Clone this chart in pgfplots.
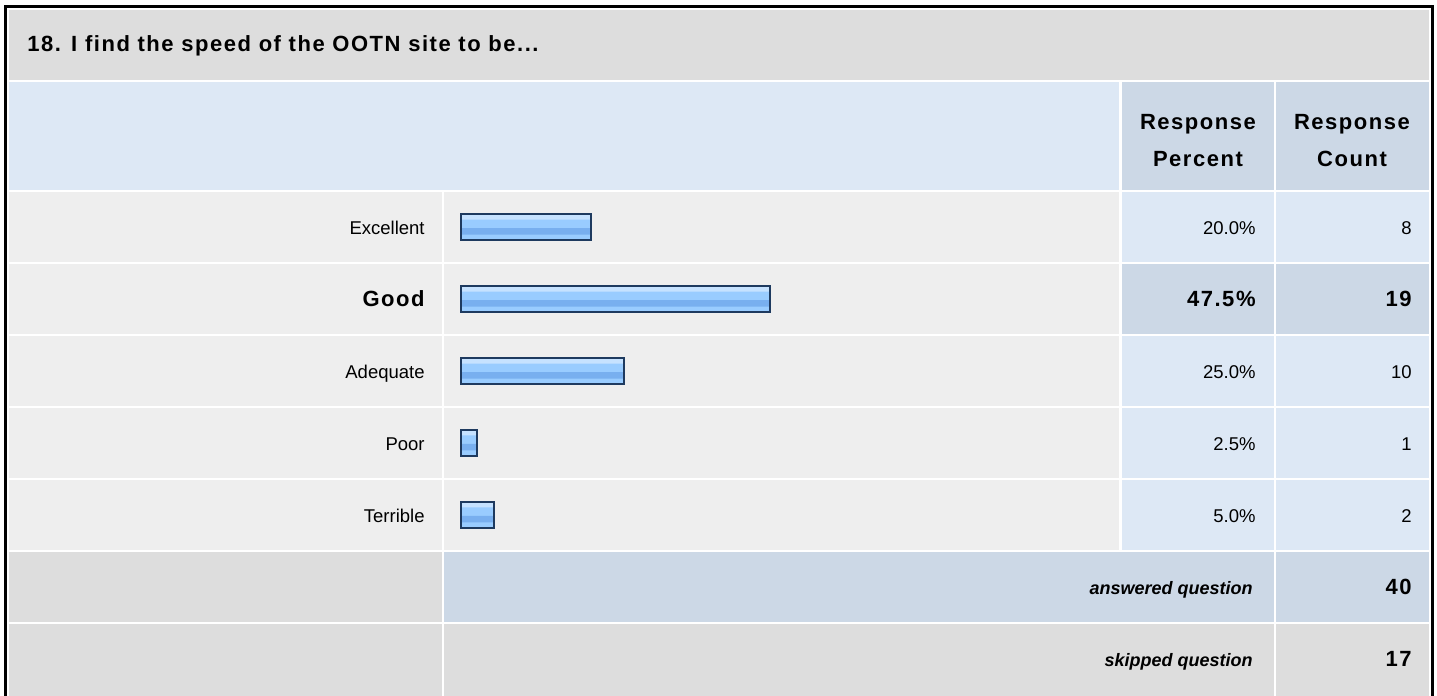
\documentclass[border=0pt]{standalone}
\usepackage{pgfplots}
\pgfplotsset{compat=1.18}
\usepackage{pgfplotstable}
\usepackage{fontspec}
\setmainfont{Liberation Sans}
\newfontfamily\wb{Liberation Sans}[LetterSpace=7]
\newcommand\bigb{\wb\bfseries\fontsize{11}{13}\selectfont}
\newcommand\bi{\bfseries\itshape\fontsize{9}{11}\selectfont}
\definecolor{titlegray}{HTML}{DDDDDD}
\definecolor{lightblue}{HTML}{DDE8F5}
\definecolor{darkblue}{HTML}{CCD8E6}
\definecolor{rowgray}{HTML}{EEEEEE}
\definecolor{barborder}{HTML}{1E3A5F}
\definecolor{barlight}{HTML}{C6E2FF}
\definecolor{barmid}{HTML}{99CCFF}
\definecolor{bardark}{HTML}{78AFEF}
\pgfplotstableread{
y pct
0 20.0
1 47.5
2 25.0
3 2.5
4 5.0
}\speeddata
\begin{document}
\fontsize{9.25}{11}\selectfont
\begin{tikzpicture}
\begin{scope}[x=0.5pt,y=-0.5pt]
\useasboundingbox (0,0) rectangle (1437,696);
% title row
\fill[titlegray] (9,10) rectangle (1429,80);
% header row
\fill[lightblue] (9,82) rectangle (1119,190);
\fill[darkblue] (1122,82) rectangle (1274,190);
\fill[darkblue] (1276,82) rectangle (1429,190);
% data rows
\foreach \k/\c in {0/lightblue,1/darkblue,2/lightblue,3/lightblue,4/lightblue}{
  \pgfmathsetmacro\t{192+72*\k}
  \pgfmathsetmacro\b{262+72*\k}
  \fill[rowgray] (9,\t) rectangle (442,\b);
  \fill[rowgray] (444,\t) rectangle (1119,\b);
  \fill[\c] (1122,\t) rectangle (1274,\b);
  \fill[\c] (1276,\t) rectangle (1429,\b);
}
% answered
\fill[titlegray] (9,552) rectangle (442,622);
\fill[darkblue] (444,552) rectangle (1274,622);
\fill[darkblue] (1276,552) rectangle (1429,622);
% skipped
\fill[titlegray] (9,624) rectangle (442,700);
\fill[titlegray] (444,624) rectangle (1274,700);
\fill[titlegray] (1276,624) rectangle (1429,700);
% border
\draw[line width=1.5pt] (5.5,710) -- (5.5,6.2) -- (1432,6.2) -- (1432,710);
% texts
\node[font=\bigb, anchor=base west, inner sep=0pt] at (27,51) {18. I find the speed of the OOTN site to be...};
\node[font=\bigb, anchor=base, inner sep=0pt] at (1198,129) {Response};
\node[font=\bigb, anchor=base, inner sep=0pt] at (1198,166) {Percent};
\node[font=\bigb, anchor=base, inner sep=0pt] at (1352,129) {Response};
\node[font=\bigb, anchor=base, inner sep=0pt] at (1352,166) {Count};
\foreach \k/\lab/\pct/\cnt/\f in {0/Excellent/20.0/8/\mdseries, 1/Good/47.5/19/\bigb, 2/Adequate/25.0/10/\mdseries, 3/Poor/2.5/1/\mdseries, 4/Terrible/5.0/2/\mdseries}{
  \pgfmathsetmacro\bl{234+72*\k}
  \node[font=\f, anchor=base east, inner sep=0pt] at (425,\bl) {\lab};
  \node[font=\f, anchor=base east, inner sep=0pt] at (1256,\bl) {\pct\%};
  \node[font=\f, anchor=base east, inner sep=0pt] at (1412,\bl) {\cnt};
}
\node[font=\bi, anchor=base east, inner sep=0pt] at (1253,594) {answered question};
\node[font=\bigb, anchor=base east, inner sep=0pt] at (1412,594) {40};
\node[font=\bi, anchor=base east, inner sep=0pt] at (1253,666) {skipped question};
\node[font=\bigb, anchor=base east, inner sep=0pt] at (1412,666) {17};
\end{scope}
\begin{axis}[at={(230.5pt,-95.5pt)}, anchor=north west, scale only axis,
  width=325pt, height=180pt, xmin=0, xmax=100, ymin=-0.5, ymax=4.5,
  y dir=reverse, hide axis, clip=false]
\addplot[xbar, bar width=13pt, bar shift=0pt, fill=barmid, draw=none] table[x=pct, y=y] {\speeddata};
\addplot[xbar, bar width=2.25pt, bar shift=4.875pt, fill=barlight, draw=none] table[x=pct, y=y] {\speeddata};
\addplot[xbar, bar width=3.25pt, bar shift=-2.125pt, fill=bardark, draw=none] table[x=pct, y=y] {\speeddata};
\addplot[xbar, bar width=13pt, bar shift=0pt, fill=none, draw=barborder, line width=1pt] table[x=pct, y=y] {\speeddata};
\end{axis}
\end{tikzpicture}
\end{document}
